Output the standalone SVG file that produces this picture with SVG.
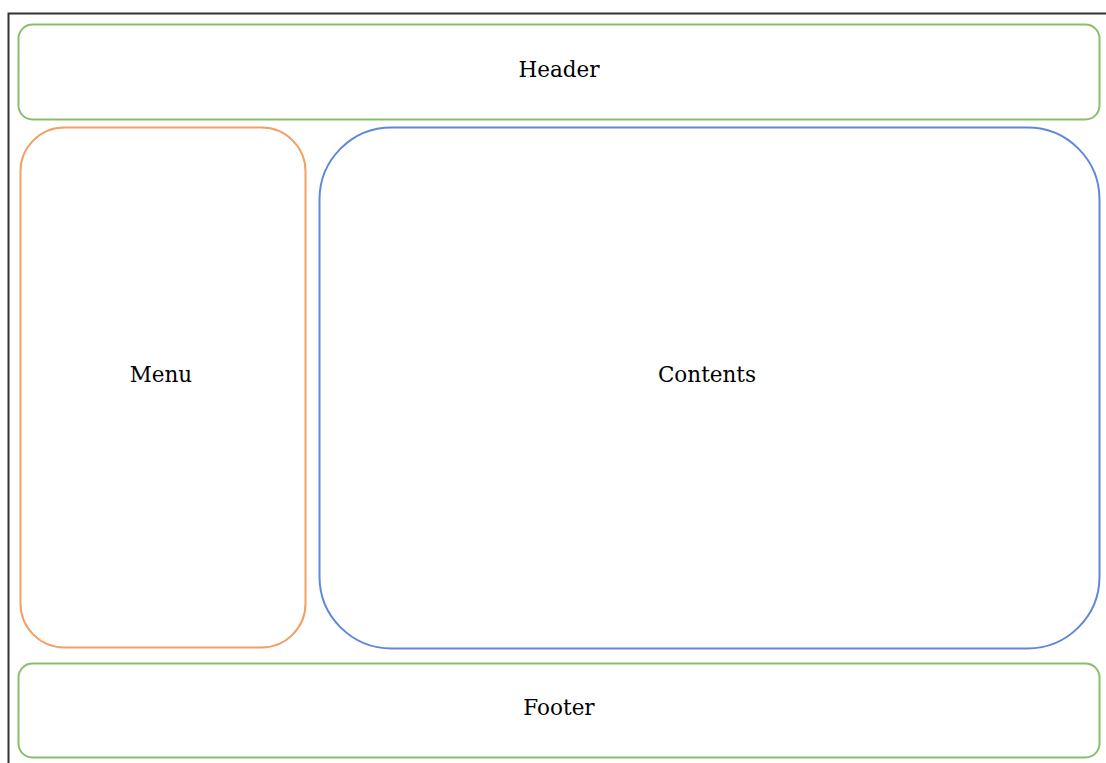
<svg xmlns="http://www.w3.org/2000/svg" width="1106" height="763" viewBox="0 0 1106 763">
  <style>
    .box { fill: #ffffff; stroke-width: 2; }
    .green { stroke: #88bf68; }
    .orange { stroke: #f4a063; }
    .blue { stroke: #5f89d8; }
    .label { font-family: "DejaVu Serif", "Liberation Serif", serif; font-size: 21.5px; fill: #000000; text-anchor: middle; dominant-baseline: central; }
  </style>
  <rect x="0" y="0" width="1106" height="763" fill="#ffffff"/>
  <!-- page frame -->
  <path d="M 8.5 770 L 8.5 13.5 L 1110 13.5" fill="none" stroke="#333333" stroke-width="2"/>
  <g id="header">
    <rect class="box green" x="18.5" y="24.5" width="1081" height="95" rx="14" ry="14"/>
    <text class="label" x="559" y="69">Header</text>
  </g>
  <g id="menu">
    <rect class="box orange" x="20.5" y="127.5" width="285" height="520" rx="44" ry="44"/>
    <text class="label" x="161" y="374">Menu</text>
  </g>
  <g id="contents">
    <rect class="box blue" x="319.5" y="127.5" width="780" height="521" rx="72" ry="72"/>
    <text class="label" x="707" y="374">Contents</text>
  </g>
  <g id="footer">
    <rect class="box green" x="18.5" y="663.5" width="1081" height="94" rx="14" ry="14"/>
    <text class="label" x="559" y="707">Footer</text>
  </g>
  <g id="connectors"></g>
</svg>
